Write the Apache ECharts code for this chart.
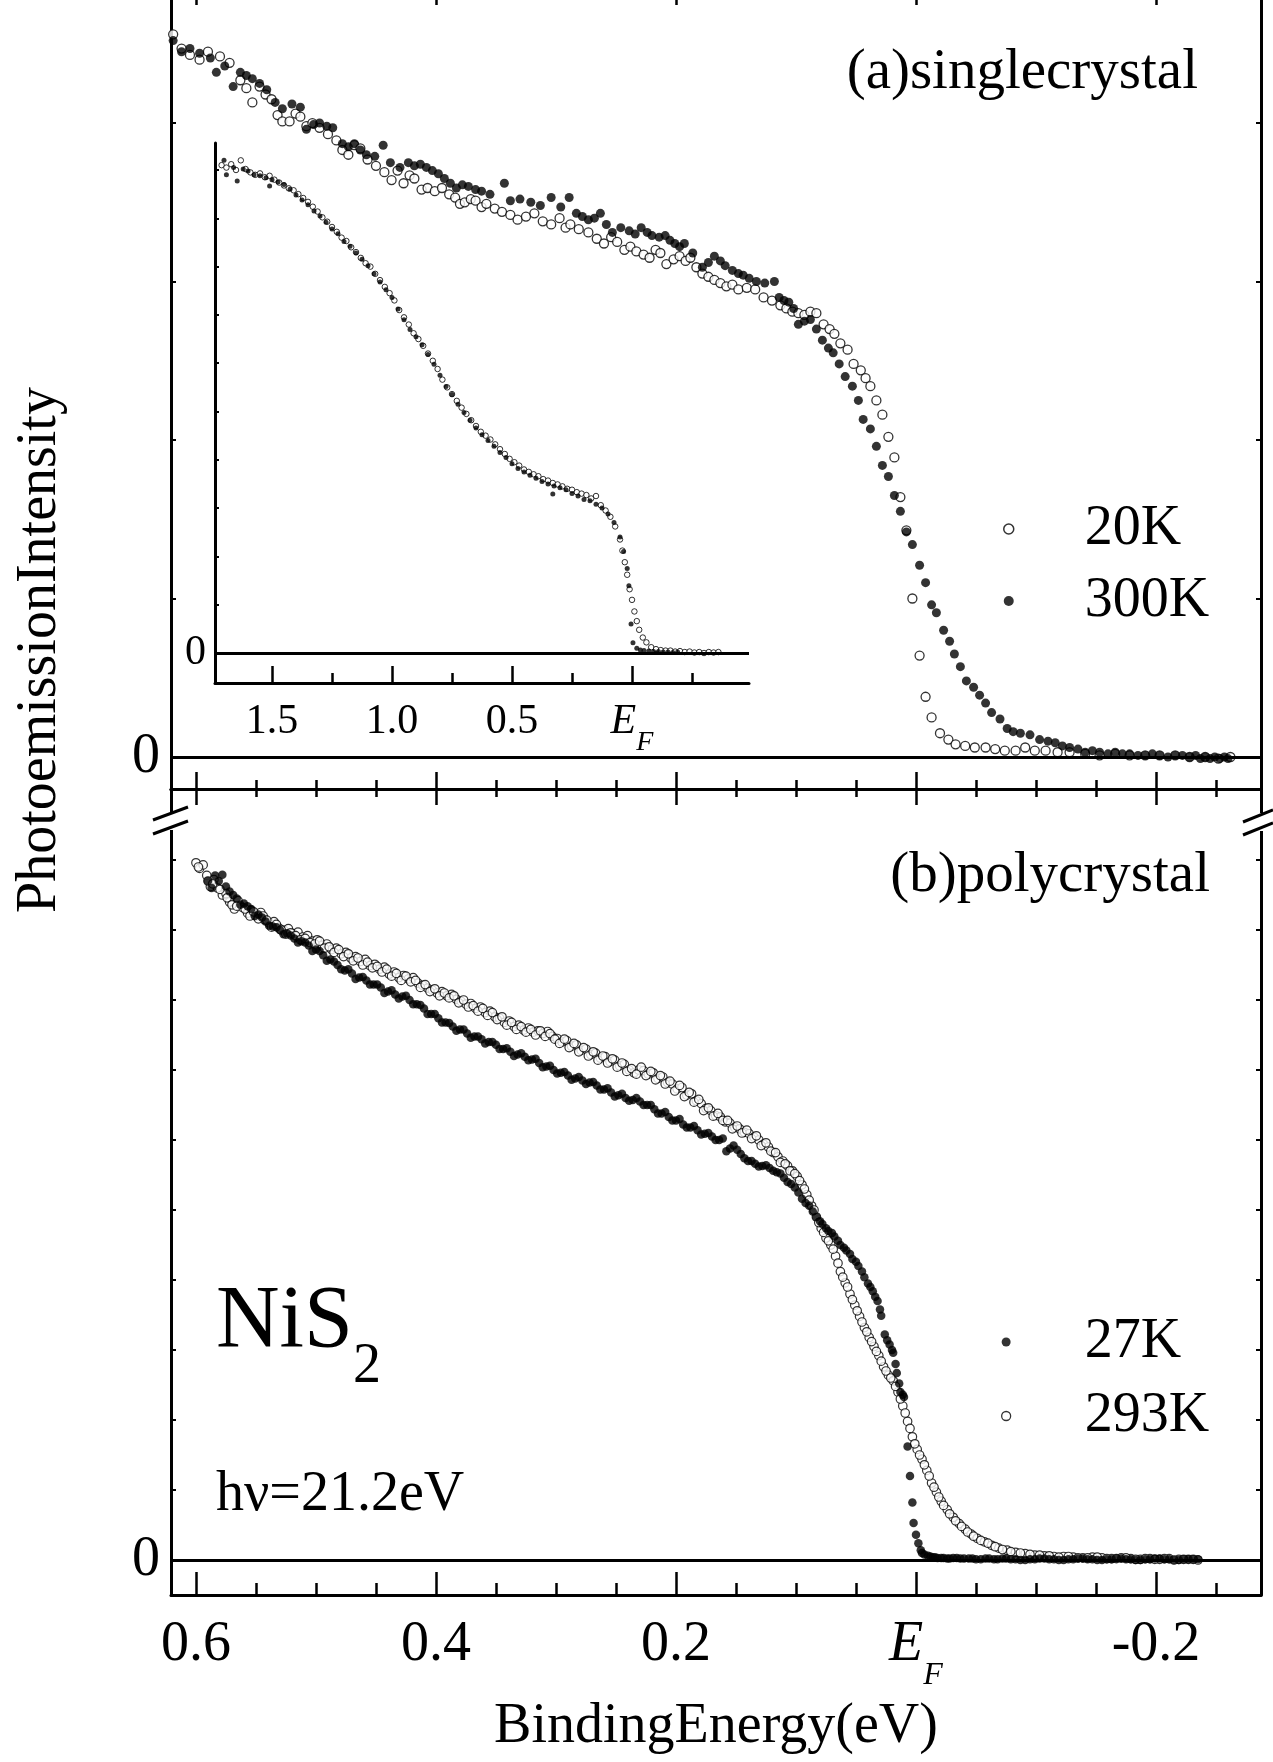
<!DOCTYPE html>
<html><head><meta charset="utf-8">
<script src="https://cdn.jsdelivr.net/npm/echarts@6/dist/echarts.min.js"></script>
<style>html,body{margin:0;padding:0;background:#fff}#chart{width:1273px;height:1762px}</style>
</head><body><div id="chart"></div>
<script>
// ---------- tick values ----------
const mainMajorTicks = [0.6, 0.4, 0.2, 0, -0.2];
const mainMinorTicks = [0.55, 0.5, 0.45, 0.35, 0.3, 0.25, 0.15, 0.1, 0.05, -0.05, -0.1, -0.15, -0.25];
const insetMajorTicks = [1.5, 1.0, 0.5, 0];
const insetMinorTicks = [1.25, 0.75, 0.25, -0.25];
const panelAYTicks = [1, 2, 3, 4];
const panelBYTicks = [1, 2, 3, 4, 5, 6, 7, 8, 9, 10];
const insetYTicks = [1, 2, 3, 4, 5, 6, 7, 8, 9, 10];
const zeroLabel = [0];

// ---------- (a) single crystal, main panel ----------
const a20K = [[.619,4.56],[.612,4.47],[.605,4.43],[.597,4.40],[.590,4.45],[.580,4.42],[.572,4.38],[.563,4.27],[.558,4.22],[.553,4.13],[.547,4.23],[.542,4.18],[.537,4.15],[.532,4.05],[.528,4.01],[.522,4.01],[.517,4.06],[.513,4.04],[.508,3.98],[.503,4.00],[.497,3.97],[.490,3.93],[.483,3.89],[.478,3.83],[.473,3.80],[.468,3.86],[.463,3.84],[.457,3.77],[.450,3.73],[.443,3.69],[.437,3.64],[.432,3.70],[.427,3.62],[.422,3.67],[.418,3.65],[.412,3.58],[.407,3.59],[.401,3.57],[.395,3.59],[.389,3.55],[.384,3.53],[.380,3.49],[.376,3.50],[.371,3.52],[.367,3.51],[.362,3.47],[.358,3.49],[.351,3.46],[.345,3.44],[.338,3.42],[.332,3.39],[.325,3.41],[.318,3.43],[.311,3.38],[.304,3.36],[.297,3.40],[.292,3.34],[.288,3.36],[.281,3.33],[.273,3.31],[.266,3.27],[.260,3.24],[.254,3.28],[.249,3.25],[.243,3.20],[.238,3.22],[.233,3.19],[.227,3.17],[.222,3.15],[.217,3.20],[.213,3.18],[.208,3.11],[.202,3.14],[.197,3.16],[.192,3.13],[.188,3.15],[.183,3.09],[.178,3.05],[.173,3.03],[.168,3.01],[.163,2.99],[.158,2.97],[.153,2.98],[.148,2.95],[.141,2.96],[.134,2.95],[.127,2.90],[.120,2.88],[.113,2.85],[.108,2.83],[.103,2.81],[.098,2.80],[.093,2.79],[.088,2.81],[.083,2.80],[.077,2.73],[.072,2.70],[.068,2.67],[.063,2.61],[.057,2.57],[.052,2.48],[.046,2.44],[.042,2.39],[.038,2.34],[.033,2.25],[.028,2.16],[.023,2.02],[.018,1.89],[.013,1.64],[.008,1.43],[.003,1.00],[-.003,.64],[-.008,.38],[-.013,.25],[-.020,.15],[-.027,.11],[-.033,.08],[-.041,.07],[-.049,.06],[-.058,.06],[-.066,.05],[-.074,.04],[-.083,.04],[-.091,.06],[-.099,.04],[-.108,.04],[-.118,.03],[-.128,.03],[-.141,.02],[-.153,.01],[-.166,.02],[-.178,.01],[-.191,.01],[-.203,.01],[-.216,.01],[-.228,.00],[-.241,.00],[-.252,-.01],[-.262,.00]];
const a300K = [[.619,4.52],[.612,4.45],[.605,4.47],[.597,4.44],[.588,4.41],[.583,4.32],[.576,4.36],[.569,4.23],[.563,4.32],[.558,4.30],[.553,4.28],[.547,4.25],[.541,4.21],[.534,4.13],[.528,4.09],[.520,4.12],[.513,4.10],[.508,3.96],[.502,3.99],[.497,4.00],[.491,3.98],[.486,3.97],[.478,3.87],[.473,3.85],[.468,3.87],[.463,3.83],[.458,3.80],[.451,3.79],[.444,3.86],[.438,3.75],[.430,3.72],[.423,3.75],[.418,3.73],[.413,3.74],[.408,3.72],[.403,3.70],[.398,3.68],[.393,3.65],[.388,3.62],[.383,3.59],[.378,3.61],[.373,3.60],[.367,3.58],[.362,3.57],[.355,3.55],[.343,3.62],[.338,3.51],[.330,3.52],[.321,3.50],[.313,3.48],[.304,3.53],[.296,3.47],[.289,3.53],[.283,3.43],[.278,3.41],[.273,3.39],[.268,3.40],[.263,3.43],[.258,3.36],[.253,3.31],[.246,3.34],[.239,3.32],[.234,3.30],[.229,3.34],[.224,3.31],[.220,3.29],[.214,3.28],[.209,3.29],[.205,3.26],[.201,3.24],[.197,3.22],[.193,3.24],[.186,3.18],[.178,3.09],[.173,3.12],[.168,3.16],[.163,3.13],[.159,3.10],[.153,3.07],[.148,3.05],[.144,3.04],[.139,3.02],[.133,3.00],[.126,2.99],[.118,3.00],[.114,2.90],[.110,2.88],[.106,2.87],[.102,2.83],[.098,2.73],[.093,2.75],[.088,2.76],[.083,2.70],[.078,2.63],[.073,2.58],[.069,2.55],[.064,2.48],[.059,2.40],[.053,2.34],[.048,2.25],[.044,2.13],[.038,2.07],[.033,1.96],[.028,1.84],[.023,1.77],[.018,1.65],[.013,1.55],[.008,1.42],[.003,1.34],[-.003,1.21],[-.008,1.10],[-.013,.96],[-.017,.91],[-.023,.80],[-.028,.73],[-.032,.65],[-.037,.57],[-.042,.48],[-.048,.44],[-.053,.39],[-.058,.34],[-.063,.28],[-.070,.24],[-.076,.18],[-.081,.16],[-.087,.15],[-.095,.14],[-.103,.11],[-.110,.10],[-.116,.09],[-.122,.07],[-.128,.06],[-.135,.05],[-.141,.03],[-.147,.04],[-.153,.03],[-.160,.02],[-.166,.03],[-.172,.02],[-.178,.02],[-.185,.01],[-.191,.01],[-.197,.02],[-.203,.01],[-.210,.00],[-.216,.01],[-.222,.01],[-.228,.00],[-.233,.01],[-.237,-.01],[-.241,.00],[-.245,-.01],[-.249,.00],[-.253,-.01],[-.257,.00],[-.260,-.01]];

// ---------- (a) inset, wide range ----------
const in20K = [[1.71,10.10],[1.69,10.05],[1.67,10.12],[1.65,10.00],[1.63,10.20],[1.61,10.02],[1.59,9.95],[1.57,9.90],[1.55,9.93],[1.53,9.85],[1.51,9.88],[1.49,9.80],[1.47,9.74],[1.45,9.68],[1.43,9.62],[1.41,9.58],[1.39,9.50],[1.37,9.42],[1.35,9.34],[1.33,9.24],[1.31,9.14],[1.29,9.02],[1.27,8.93],[1.25,8.82],[1.23,8.72],[1.21,8.60],[1.19,8.53],[1.17,8.40],[1.15,8.30],[1.13,8.18],[1.11,8.07],[1.09,8.00],[1.07,7.85],[1.05,7.72],[1.03,7.58],[1.01,7.45],[0.99,7.30],[0.97,7.10],[0.95,6.95],[0.93,6.80],[0.91,6.62],[0.89,6.50],[0.87,6.36],[0.85,6.20],[0.83,6.05],[0.81,5.88],[0.79,5.66],[0.77,5.50],[0.75,5.36],[0.73,5.22],[0.71,5.08],[0.69,4.95],[0.67,4.82],[0.65,4.70],[0.63,4.58],[0.61,4.50],[0.59,4.42],[0.57,4.32],[0.55,4.22],[0.53,4.12],[0.51,4.02],[0.49,3.95],[0.47,3.88],[0.45,3.80],[0.43,3.75],[0.41,3.70],[0.39,3.66],[0.37,3.60],[0.35,3.57],[0.33,3.52],[0.31,3.49],[0.29,3.45],[0.27,3.40],[0.25,3.38],[0.23,3.33],[0.21,3.30],[0.19,3.27],[0.17,3.20],[0.15,3.25],[0.13,3.06],[0.11,2.95],[0.09,2.82],[0.07,2.62],[0.05,2.35],[0.04,2.12],[0.03,1.88],[0.02,1.62],[0.01,1.32],[0.00,1.10],[-0.01,0.86],[-0.02,0.66],[-0.03,0.48],[-0.045,0.32],[-0.06,0.22],[-0.08,0.12],[-0.10,0.08],[-0.12,0.06],[-0.14,0.05],[-0.16,0.05],[-0.18,0.03],[-0.20,0.04],[-0.22,0.02],[-0.24,0.03],[-0.26,0.01],[-0.28,0.02],[-0.30,0.00],[-0.32,0.02],[-0.34,0.01],[-0.36,0.02]];
const in300K = [[1.70,10.20],[1.69,9.90],[1.66,10.05],[1.645,9.77],[1.62,10.02],[1.60,9.98],[1.575,9.90],[1.55,9.88],[1.525,9.84],[1.51,9.67],[1.50,9.80],[1.475,9.75],[1.45,9.70],[1.425,9.60],[1.40,9.48],[1.375,9.38],[1.35,9.28],[1.325,9.15],[1.30,9.05],[1.275,8.92],[1.25,8.78],[1.225,8.68],[1.20,8.52],[1.175,8.42],[1.15,8.28],[1.125,8.15],[1.10,8.02],[1.075,7.85],[1.05,7.68],[1.025,7.52],[1.00,7.36],[0.975,7.12],[0.95,6.90],[0.925,6.70],[0.90,6.55],[0.875,6.38],[0.85,6.18],[0.825,5.98],[0.80,5.75],[0.775,5.52],[0.75,5.35],[0.725,5.15],[0.70,4.98],[0.675,4.82],[0.65,4.66],[0.625,4.52],[0.60,4.40],[0.575,4.28],[0.55,4.15],[0.525,4.05],[0.50,3.92],[0.475,3.82],[0.45,3.75],[0.425,3.68],[0.40,3.62],[0.375,3.55],[0.35,3.50],[0.33,3.29],[0.325,3.46],[0.30,3.42],[0.275,3.38],[0.25,3.30],[0.225,3.25],[0.20,3.18],[0.175,3.15],[0.15,3.08],[0.125,3.00],[0.10,2.88],[0.075,2.70],[0.05,2.40],[0.035,2.10],[0.02,1.75],[0.013,1.39],[0.004,0.60],[-0.004,0.21],[-0.02,0.10],[-0.035,0.06],[-0.05,0.05],[-0.07,0.04],[-0.09,0.03],[-0.11,0.03],[-0.13,0.02],[-0.15,0.02],[-0.17,0.01],[-0.19,0.02]];

// ---------- (b) polycrystal ----------
const b27K = [[.590,9.70],[.584,9.78],[.578,9.79],[.572,9.55],[.566,9.45],[.560,9.38],[.554,9.30],[.548,9.22],[.542,9.12],[.536,9.05],[.530,9.00],[.524,8.95],[.518,8.88],[.512,8.84],[.506,8.78],[.500,8.72],[.494,8.64],[.488,8.58],[.482,8.50],[.476,8.42],[.470,8.38],[.464,8.32],[.458,8.28],[.452,8.22],[.446,8.18],[.440,8.12],[.434,8.08],[.428,8.05],[.422,8.00],[.416,7.94],[.410,7.88],[.404,7.80],[.398,7.74],[.392,7.68],[.386,7.62],[.380,7.58],[.374,7.52],[.368,7.48],[.362,7.44],[.356,7.40],[.350,7.36],[.344,7.30],[.338,7.26],[.332,7.22],[.326,7.19],[.320,7.15],[.314,7.10],[.308,7.05],[.302,7.00],[.296,6.96],[.290,6.92],[.284,6.88],[.278,6.85],[.272,6.82],[.266,6.78],[.260,6.72],[.254,6.68],[.248,6.64],[.242,6.60],[.236,6.57],[.230,6.55],[.224,6.50],[.218,6.44],[.212,6.38],[.206,6.33],[.200,6.28],[.194,6.22],[.188,6.18],[.182,6.14],[.176,6.09],[.170,6.05],[.164,6.00],[.158,5.84],[.152,5.92],[.146,5.80],[.140,5.70],[.134,5.66],[.128,5.63],[.122,5.60],[.116,5.54],[.110,5.46],[.104,5.37],[.098,5.25],[.092,5.10],[.086,4.98],[.080,4.84],[.075,4.74],[.070,4.67],[.065,4.56],[.060,4.46],[.055,4.37],[.050,4.26],[.045,4.12],[.040,3.95],[.036,3.84],[.032,3.70],[.029,3.49],[.026,3.22],[.022,3.08],[.019,2.96],[.016,2.67],[.013,2.40],[.010,2.33],[.007,1.62],[.005,1.20],[.003,0.82],[.002,0.53],[.000,0.36],[-.002,0.24],[-.004,0.14],[-.007,0.08],[-.010,0.06],[-.014,0.04],[-.018,0.03],[-.023,0.03],[-.028,0.02],[-.034,0.03],[-.040,0.02],[-.047,0.02],[-.054,0.01],[-.061,0.02],[-.068,0.01],[-.075,0.02],[-.083,0.01],[-.091,0.00],[-.099,0.01],[-.107,0.02],[-.115,0.01],[-.123,0.00],[-.131,0.01],[-.139,0.02],[-.147,0.01],[-.155,0.00],[-.163,0.01],[-.171,0.02],[-.179,0.01],[-.187,0.00],[-.195,0.01],[-.203,0.02],[-.211,0.01],[-.219,0.00],[-.227,0.01],[-.235,0.01],
[.587,9.60],[.581,9.70],[.575,9.62],[.569,9.50],[.563,9.36],[.557,9.34],[.551,9.20],[.545,9.18],[.539,9.06],[.533,9.04],[.527,8.94],[.521,8.92],[.515,8.82],[.509,8.82],[.503,8.70],[.497,8.70],[.491,8.56],[.485,8.55],[.479,8.44],[.473,8.44],[.467,8.30],[.461,8.33],[.455,8.22],[.449,8.22],[.443,8.10],[.437,8.14],[.431,8.02],[.425,8.06],[.419,7.94],[.413,7.93],[.407,7.80],[.401,7.80],[.395,7.68],[.389,7.67],[.383,7.56],[.377,7.58],[.371,7.46],[.365,7.48],[.359,7.38],[.353,7.40],[.347,7.30],[.341,7.31],[.335,7.20],[.329,7.24],[.323,7.14],[.317,7.16],[.311,7.04],[.305,7.06],[.299,6.95],[.293,6.97],[.287,6.86],[.281,6.90],[.275,6.80],[.269,6.83],[.263,6.72],[.257,6.74],[.251,6.62],[.245,6.66],[.239,6.56],[.233,6.60],[.227,6.50],[.221,6.50],[.215,6.38],[.209,6.40],[.203,6.28],[.197,6.30],[.191,6.18],[.185,6.20],[.179,6.08],[.173,6.10],[.167,6.00],[.161,6.02],[.155,5.88],[.149,5.86],[.143,5.74],[.137,5.70],[.131,5.62],[.125,5.64],[.119,5.56],[.113,5.52],[.107,5.40],[.101,5.32],[.095,5.16],[.089,5.06],[.083,4.90],[.078,4.80],[.073,4.70],[.068,4.62],[.063,4.50],[.058,4.42],[.053,4.30],[.048,4.20],[.043,4.04],[.038,3.90],[.034,3.76],[.030,3.58],[.024,3.14],[.020,3.00],[.017,2.80],[.014,2.52],[.011,2.36],
[-.005,.10],[-.012,.05],[-.016,.04],[-.021,.03],[-.026,.02],[-.031,.03],[-.037,.02],[-.044,.02],[-.050,.01],[-.058,.02],[-.065,.01],[-.072,.02],[-.079,.01],[-.087,.00],[-.095,.01],[-.103,.02],[-.111,.01],[-.119,.00],[-.127,.01],[-.135,.02],[-.143,.01],[-.151,.00],[-.159,.01],[-.167,.02],[-.175,.01],[-.183,.00],[-.191,.01],[-.199,.02],[-.207,.01],[-.215,.00],[-.223,.01],[-.231,.01]];
const b293K = [[.600,9.96],[.597,9.88],[.594,9.93],[.591,9.78],[.588,9.62],[.585,9.72],[.582,9.60],[.578,9.50],[.575,9.52],[.572,9.40],[.568,9.30],[.565,9.42],[.561,9.32],[.557,9.24],[.554,9.28],[.550,9.20],[.546,9.25],[.543,9.15],[.539,9.10],[.535,9.12],[.531,9.03],[.527,9.00],[.523,9.02],[.519,8.95],[.515,8.97],[.511,8.90],[.507,8.92],[.503,8.84],[.499,8.86],[.495,8.78],[.491,8.80],[.487,8.72],[.483,8.74],[.479,8.66],[.475,8.68],[.471,8.60],[.467,8.62],[.463,8.55],[.459,8.58],[.455,8.49],[.451,8.51],[.447,8.44],[.443,8.47],[.439,8.37],[.435,8.40],[.431,8.32],[.427,8.35],[.423,8.30],[.419,8.32],[.415,8.24],[.411,8.21],[.407,8.17],[.403,8.14],[.399,8.10],[.395,8.12],[.391,8.06],[.387,8.08],[.383,8.01],[.379,7.98],[.375,7.94],[.371,7.95],[.367,7.88],[.363,7.90],[.359,7.82],[.355,7.84],[.351,7.76],[.347,7.74],[.343,7.68],[.339,7.70],[.335,7.62],[.331,7.64],[.327,7.57],[.323,7.60],[.319,7.54],[.315,7.56],[.311,7.52],[.307,7.55],[.303,7.48],[.299,7.45],[.295,7.40],[.291,7.42],[.287,7.34],[.283,7.36],[.279,7.28],[.275,7.30],[.271,7.22],[.267,7.24],[.263,7.17],[.259,7.19],[.255,7.12],[.251,7.14],[.247,7.06],[.243,7.08],[.239,7.00],[.235,6.96],[.231,7.00],[.227,6.99],[.223,6.94],[.219,6.96],[.215,6.88],[.211,6.90],[.207,6.82],[.203,6.80],[.199,6.73],[.195,6.75],[.191,6.64],[.187,6.66],[.183,6.56],[.179,6.52],[.175,6.45],[.171,6.42],[.167,6.35],[.163,6.33],[.159,6.26],[.155,6.24],[.151,6.18],[.147,6.16],[.143,6.11],[.139,6.09],[.135,6.04],[.131,6.00],[.127,5.94],[.123,5.90],[.119,5.82],[.115,5.76],[.111,5.70],[.107,5.63],[.103,5.56],[.099,5.48],[.095,5.36],[.091,5.22],[.087,5.06],[.083,4.90],[.079,4.74],[.075,4.60],[.071,4.50],[.067,4.34],[.063,4.12],[.059,3.96],[.055,3.80],[.051,3.64],[.047,3.48],[.043,3.32],[.039,3.18],[.035,3.05],[.031,2.92],[.027,2.76],[.023,2.64],[.019,2.56],[.015,2.40],[.011,2.20],[.007,1.98],[.003,1.76],[-.001,1.58],[-.005,1.44],[-.009,1.28],[-.013,1.10],[-.017,0.97],[-.021,0.84],[-.026,0.72],[-.031,0.61],[-.036,0.52],[-.041,0.44],[-.046,0.37],[-.051,0.31],[-.057,0.26],[-.063,0.21],[-.069,0.17],[-.076,0.14],[-.083,0.11],[-.091,0.09],[-.099,0.07],[-.107,0.06],[-.115,0.05],[-.123,0.05],[-.131,0.04],[-.139,0.03],[-.147,0.04],[-.155,0.03],[-.163,0.02],[-.171,0.03],[-.179,0.02],[-.187,0.01],[-.195,0.02],[-.203,0.01],[-.211,0.02],[-.219,0.01],[-.227,0.01],[-.235,0.00],
[.598,9.90],[.590,9.70],[.586,9.66],[.580,9.58],[.574,9.46],[.570,9.36],[.566,9.34],[.559,9.30],[.555,9.20],[.552,9.26],[.548,9.16],[.544,9.20],[.541,9.14],[.537,9.04],[.533,9.08],[.529,9.00],[.525,8.94],[.521,8.96],[.517,8.92],[.513,8.86],[.509,8.88],[.505,8.82],[.501,8.80],[.497,8.84],[.493,8.74],[.489,8.76],[.485,8.68],[.481,8.72],[.477,8.62],[.473,8.66],[.469,8.56],[.465,8.60],[.461,8.50],[.457,8.54],[.453,8.46],[.449,8.48],[.445,8.40],[.441,8.44],[.437,8.34],[.433,8.38],[.429,8.28],[.425,8.34],[.421,8.26],[.417,8.28],[.413,8.18],[.409,8.22],[.405,8.12],[.401,8.16],[.397,8.06],[.393,8.10],[.389,8.03],[.385,8.06],[.381,7.96],[.377,8.00],[.373,7.90],[.369,7.92],[.365,7.84],[.361,7.88],[.357,7.78],[.353,7.82],[.349,7.72],[.345,7.76],[.341,7.64],[.337,7.68],[.333,7.58],[.329,7.62],[.325,7.54],[.321,7.58],[.317,7.50],[.313,7.56],[.309,7.48],[.305,7.52],[.301,7.44],[.297,7.38],[.293,7.44],[.289,7.32],[.285,7.38],[.281,7.26],[.277,7.32],[.273,7.20],[.269,7.26],[.265,7.14],[.261,7.20],[.257,7.10],[.253,7.16],[.249,7.04],[.245,7.10],[.241,6.98],[.237,7.02],[.233,6.94],[.229,7.04],[.225,6.92],[.221,6.98],[.217,6.86],[.213,6.92],[.209,6.80],[.205,6.84],[.201,6.70],[.197,6.78],[.193,6.62],[.189,6.68],[.185,6.54],[.181,6.58],[.177,6.42],[.173,6.46],[.169,6.34],[.165,6.38],[.161,6.28],[.157,6.28],[.153,6.16],[.149,6.20],[.145,6.10],[.141,6.14],[.137,6.02],[.133,6.06],[.129,5.92],[.125,5.96],[.121,5.84],[.117,5.82],[.113,5.68],[.109,5.66],[.105,5.56],[.101,5.52],[.097,5.42],[.093,5.30],[.089,5.14],[.085,5.00],[.081,4.82],[.077,4.68],[.073,4.56],[.069,4.44],[.065,4.24],[.061,4.04],[.057,3.90],[.053,3.72],[.049,3.56],[.045,3.40],[.041,3.26],[.037,3.12],[.033,2.98],[.029,2.84],[.025,2.70],[.021,2.60],[.017,2.48],[.013,2.30],[.009,2.10],[.005,1.88],[.001,1.66],[-.003,1.50],[-.007,1.36],[-.011,1.20],[-.015,1.04],[-.019,0.90],[-.023,0.78],[-.028,0.66],[-.033,0.56],[-.038,0.48],[-.043,0.40],[-.048,0.34],[-.054,0.28],[-.060,0.24],[-.066,0.19],[-.072,0.15],[-.079,0.12],[-.087,0.10],[-.095,0.08],[-.103,0.07],[-.111,0.06],[-.119,0.04],[-.127,0.05],[-.135,0.03],[-.143,0.03],[-.151,0.04],[-.159,0.02],[-.167,0.02],[-.175,0.03],[-.183,0.01],[-.191,0.02],[-.199,0.01],[-.207,0.02],[-.215,0.00],[-.223,0.01],[-.231,0.01]];

// ---------- chart ----------
const FONT = 'Liberation Serif';
const BLACK = '#000';
const chart = echarts.init(document.getElementById('chart'), null, {renderer: 'canvas'});

const mainX = {min: -0.2875, max: 0.6208};
const insetX = {min: -0.4875, max: 1.7375};
const aY = {min: -0.2019, max: 4.852};
const bY = {min: -0.5, max: 11.014};
const iY = {min: -0.6211, max: 10.559};

const line3 = {show: true, onZero: false, lineStyle: {color: BLACK, width: 3}};
function ticks(vals, len, w) {
  return {show: true, inside: true, length: len, customValues: vals, lineStyle: {color: BLACK, width: w || 2.5}};
}
function xAx(grid, range, extra) {
  return Object.assign({type: 'value', gridIndex: grid, min: range.min, max: range.max, inverse: true,
    splitLine: {show: false}, axisLine: {show: false, onZero: false}, axisTick: {show: false},
    axisLabel: {show: false}, axisPointer: {show: false}}, extra);
}
function yAx(grid, range, extra) {
  return Object.assign({type: 'value', gridIndex: grid, min: range.min, max: range.max,
    splitLine: {show: false}, axisLine: {show: false, onZero: false}, axisTick: {show: false},
    axisLabel: {show: false}}, extra);
}
function efFormatter(v) {
  if (Math.abs(v) < 1e-9) return '{e|E}{f|F}';
  return v.toFixed(1);
}
const mainLabel = {
  show: true, customValues: mainMajorTicks, formatter: efFormatter, margin: 22,
  fontFamily: FONT, fontSize: 56, lineHeight: 56, color: BLACK,
  rich: {
    e: {fontFamily: FONT, fontStyle: 'italic', fontSize: 56, lineHeight: 56, verticalAlign: 'top', color: BLACK},
    f: {fontFamily: FONT, fontStyle: 'italic', fontSize: 32, lineHeight: 32, verticalAlign: 'top', padding: [43, 0, 0, 0], color: BLACK}
  }
};
const insetLabel = {
  show: true, customValues: insetMajorTicks, formatter: efFormatter, margin: 18,
  fontFamily: FONT, fontSize: 42, lineHeight: 42, color: BLACK,
  rich: {
    e: {fontFamily: FONT, fontStyle: 'italic', fontSize: 42, lineHeight: 42, verticalAlign: 'top', color: BLACK},
    f: {fontFamily: FONT, fontStyle: 'italic', fontSize: 28, lineHeight: 28, verticalAlign: 'top', padding: [28, 0, 0, 0], color: BLACK}
  }
};
function zeroYLabel(size, margin) {
  return {show: true, customValues: zeroLabel, formatter: function () { return '0'; },
    margin: margin, fontFamily: FONT, fontSize: size, color: BLACK};
}
const zeroLine = {silent: true, symbol: 'none', animation: false, label: {show: false},
  lineStyle: {color: BLACK, width: 3, type: 'solid'}, data: [{yAxis: 0}]};
const openStyle = (w) => ({color: '#fff', borderColor: BLACK, borderWidth: w});
const fillStyle = {color: BLACK};
function txt(text, x, y, size, align, extra) {
  return Object.assign({type: 'text', x: x, y: y, z: 50,
    style: {text: text, font: 'normal ' + size + 'px "Liberation Serif", serif', fill: BLACK,
      textAlign: align, textVerticalAlign: 'middle'}}, extra || {});
}

const gridBase = {outerBoundsMode: 'none', containLabel: false, show: false};
const option = {
  animation: false,
  backgroundColor: '#fff',
  textStyle: {fontFamily: FONT},
  grid: [
    Object.assign({left: 171, top: -12, width: 1090, height: 801}, gridBase),   // 0 panel a
    Object.assign({left: 171, top: -12, width: 1090, height: 801}, gridBase),   // 1 panel a minor ticks
    Object.assign({left: 171, top: 789, width: 1090, height: 806}, gridBase),   // 2 panel b
    Object.assign({left: 171, top: 789, width: 1090, height: 806}, gridBase),   // 3 panel b minor ticks
    Object.assign({left: 215, top: 143, width: 534, height: 540}, gridBase),    // 4 inset
    Object.assign({left: 215, top: 143, width: 534, height: 540}, gridBase)     // 5 inset minor ticks
  ],
  xAxis: [
    xAx(0, mainX, {position: 'bottom', axisLine: line3, axisTick: ticks(mainMajorTicks, 17)}),
    xAx(0, mainX, {position: 'top', axisLine: line3, axisTick: ticks(mainMajorTicks, 17)}),
    xAx(1, mainX, {position: 'bottom', axisTick: ticks(mainMinorTicks, 9)}),
    xAx(2, mainX, {position: 'top', axisLine: line3, axisTick: ticks(mainMajorTicks, 16)}),
    xAx(2, mainX, {position: 'bottom', axisLine: line3, axisTick: ticks(mainMajorTicks, 23), axisLabel: mainLabel,
      name: 'BindingEnergy(eV)', nameLocation: 'middle', nameGap: 104,
      nameTextStyle: {fontFamily: FONT, fontSize: 56, color: BLACK}}),
    xAx(3, mainX, {position: 'top', axisTick: ticks(mainMinorTicks, 8)}),
    xAx(3, mainX, {position: 'bottom', axisTick: ticks(mainMinorTicks, 12)}),
    xAx(4, insetX, {position: 'bottom', axisLine: line3, axisTick: ticks(insetMajorTicks, 17), axisLabel: insetLabel}),
    xAx(5, insetX, {position: 'bottom', axisTick: ticks(insetMinorTicks, 10)})
  ],
  yAxis: [
    yAx(0, aY, {position: 'left', axisLine: line3, axisTick: ticks(panelAYTicks, 5, 2), axisLabel: zeroYLabel(56, 11)}),
    yAx(0, aY, {position: 'right', axisLine: line3, axisTick: ticks(panelAYTicks, 5, 2)}),
    yAx(1, aY, {show: false}),
    yAx(2, bY, {position: 'left', axisLine: line3, axisTick: ticks(panelBYTicks, 5, 2), axisLabel: zeroYLabel(56, 11)}),
    yAx(2, bY, {position: 'right', axisLine: line3, axisTick: ticks(panelBYTicks, 5, 2)}),
    yAx(3, bY, {show: false}),
    yAx(4, iY, {position: 'left', axisLine: line3, axisTick: ticks(insetYTicks, 4, 2), axisLabel: zeroYLabel(42, 9)}),
    yAx(5, iY, {show: false})
  ],
  legend: [
    {
      data: [
        {name: '20K', icon: 'circle', itemStyle: openStyle(1.5)},
        {name: '300K', icon: 'circle', itemStyle: fillStyle}
      ],
      orient: 'vertical', left: 998, top: 496, itemWidth: 10, itemHeight: 10, itemGap: 16,
      selectedMode: false,
      textStyle: {fontFamily: FONT, fontSize: 56, lineHeight: 56, color: BLACK, padding: [0, 0, 0, 66]}
    },
    {
      data: [
        {name: '27K', icon: 'circle', itemStyle: fillStyle},
        {name: '293K', icon: 'circle', itemStyle: openStyle(1.3)}
      ],
      orient: 'vertical', left: 996, top: 1309, itemWidth: 9, itemHeight: 9, itemGap: 18,
      selectedMode: false,
      textStyle: {fontFamily: FONT, fontSize: 56, lineHeight: 56, color: BLACK, padding: [0, 0, 0, 69]}
    }
  ],
  series: [
    {name: '20K', type: 'scatter', xAxisIndex: 0, yAxisIndex: 0, data: a20K, symbol: 'circle', symbolSize: 9,
      itemStyle: openStyle(1.3), z: 3, markLine: zeroLine},
    {name: '300K', type: 'scatter', xAxisIndex: 0, yAxisIndex: 0, data: a300K, symbol: 'circle', symbolSize: 9,
      itemStyle: fillStyle, z: 4},
    {name: '20K', type: 'scatter', xAxisIndex: 7, yAxisIndex: 6, data: in20K, symbol: 'circle', symbolSize: 5.5,
      itemStyle: openStyle(1), z: 3, markLine: zeroLine},
    {name: '300K', type: 'scatter', xAxisIndex: 7, yAxisIndex: 6, data: in300K, symbol: 'circle', symbolSize: 5,
      itemStyle: fillStyle, z: 4},
    {name: '293K', type: 'scatter', xAxisIndex: 4, yAxisIndex: 3, data: b293K, symbol: 'circle', symbolSize: 8.5,
      itemStyle: openStyle(1.2), z: 3, markLine: zeroLine},
    {name: '27K', type: 'scatter', xAxisIndex: 4, yAxisIndex: 3, data: b27K, symbol: 'circle', symbolSize: 8.5,
      itemStyle: fillStyle, z: 4}
  ],
  graphic: [
    txt('PhotoemissionIntensity', 40, 650, 56, 'center', {rotation: Math.PI / 2}),
    txt('(a)singlecrystal', 1198, 73, 57, 'right'),
    txt('(b)polycrystal', 1210, 876, 57, 'right'),
    txt('NiS', 216, 1323, 88, 'left'),
    txt('2', 353, 1367, 56, 'left'),
    txt('hν=21.2eV', 216, 1495, 56, 'left'),
    // axis break marks
    {type: 'rect', z: 60, shape: {x: 164, y: 812, width: 14, height: 18}, style: {fill: '#fff'}},
    {type: 'line', z: 61, shape: {x1: 153, y1: 820, x2: 188, y2: 807}, style: {stroke: BLACK, lineWidth: 3}},
    {type: 'line', z: 61, shape: {x1: 153, y1: 834, x2: 188, y2: 821}, style: {stroke: BLACK, lineWidth: 3}},
    {type: 'rect', z: 60, shape: {x: 1254, y: 813, width: 14, height: 18}, style: {fill: '#fff'}},
    {type: 'line', z: 61, shape: {x1: 1243, y1: 822, x2: 1273, y2: 810}, style: {stroke: BLACK, lineWidth: 3}},
    {type: 'line', z: 61, shape: {x1: 1243, y1: 835, x2: 1273, y2: 823}, style: {stroke: BLACK, lineWidth: 3}}
  ]
};
chart.setOption(option);
</script>
</body></html>
